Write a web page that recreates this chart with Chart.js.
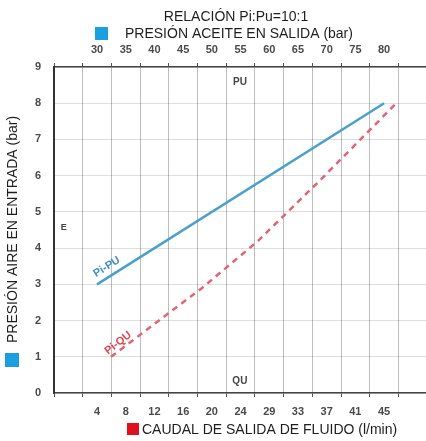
<!DOCTYPE html>
<html>
<head>
<meta charset="utf-8">
<script src="https://cdn.jsdelivr.net/npm/chart.js@4.4.1/dist/chart.umd.min.js"></script>
<style>
html, body { margin: 0; padding: 0; background: #fff; }
</style>
</head>
<body>
<canvas id="chart" width="426" height="441"></canvas>
<script>
// Tick labels of the two horizontal axes (they sit between the grid lines).
var PU_TICKS = ['30', '35', '40', '45', '50', '55', '60', '65', '70', '75', '80'];
var QU_TICKS = ['4', '8', '12', '16', '20', '24', '29', '33', '37', '41', '45'];
var AIR_TICKS = [0, 1, 2, 3, 4, 5, 6, 7, 8, 9];

// Pi-PU: oil outlet pressure (bar) vs air inlet pressure (bar).
var PI_PU_BAR = [30, 80];
var PI_PU_AIR = [3.0, 8.0];

// Pi-QU: fluid flow (l/min) vs air inlet pressure (bar).
var PI_QU_FLOW = [6, 19, 27, 36, 47];
var PI_QU_AIR = [1.0, 2.9, 4.2, 5.9, 8.05];

var TICK_FONT = {family: '"Liberation Sans", Arial, sans-serif', size: 11, weight: 'bold'};
var TICK_COLOUR = '#4a4a4a';
var BLUE = '#1a9fe0';
var RED = '#e0101e';

/**
 * Put the grid ticks at a fixed step from the axis minimum.
 */
function stepTicks(step) {
    return function(axis) {
        var ticks = [];
        for (var i = 0; axis.min + i * step <= axis.max + 1e-9; i++) {
            ticks.push({value: axis.min + i * step});
        }
        axis.ticks = ticks;
    };
}

var labelsPlugin = {
    id: 'labels',
    afterDraw: function(chart) {
        var ctx = chart.ctx;
        var x = chart.scales.x;
        var xq = chart.scales.xq;
        var y = chart.scales.y;
        var font = '14px "Liberation Sans", Arial, sans-serif';

        ctx.save();
        ctx.fillStyle = '#1e1e1e';
        ctx.font = font;
        ctx.textBaseline = 'middle';

        // Titles.
        ctx.textAlign = 'center';
        ctx.fillText('RELACIÓN Pi:Pu=10:1', 236, 17);
        ctx.textAlign = 'left';
        ctx.fillText('PRESIÓN ACEITE EN SALIDA (bar)', 125, 34);
        ctx.fillText('CAUDAL DE SALIDA DE FLUIDO (l/min)', 142, 430);
        ctx.save();
        ctx.translate(13.5, 343);
        ctx.rotate(-Math.PI / 2);
        ctx.fillText('PRESIÓN AIRE EN ENTRADA (bar)', 0, 0);
        ctx.restore();

        ctx.fillStyle = BLUE;
        ctx.fillRect(95, 27, 13, 13);
        ctx.fillRect(5, 353, 14, 14);
        ctx.fillStyle = RED;
        ctx.fillRect(127, 423, 12, 12);

        // Small markers inside the plot.
        ctx.fillStyle = '#444';
        ctx.font = 'bold 10px "Liberation Sans", Arial, sans-serif';
        ctx.textAlign = 'center';
        ctx.fillText('PU', x.getPixelForValue(54.9), y.getPixelForValue(8.59));
        ctx.fillText('QU', xq.getPixelForValue(24.4), y.getPixelForValue(0.33));
        ctx.font = 'bold 9px "Liberation Sans", Arial, sans-serif';
        ctx.fillText('E', x.getPixelForValue(24.2), y.getPixelForValue(4.56));

        // Curve names, written along the lines.
        ctx.font = 'bold 11px "Liberation Sans", Arial, sans-serif';
        ctx.save();
        ctx.translate(x.getPixelForValue(31.7), y.getPixelForValue(3.48));
        ctx.rotate(-32 * Math.PI / 180);
        ctx.fillStyle = '#3d8fca';
        ctx.fillText('Pi-PU', 0, 0);
        ctx.restore();
        ctx.save();
        ctx.translate(xq.getPixelForValue(7.0), y.getPixelForValue(1.38));
        ctx.rotate(-38 * Math.PI / 180);
        ctx.fillStyle = '#e0404f';
        ctx.fillText('Pi-QU', 0, 0);
        ctx.restore();

        ctx.restore();
    }
};

new Chart(document.getElementById('chart'), {
    type: 'line',
    data: {
        datasets: [{
            label: 'Pi-PU',
            data: PI_PU_BAR.map(function(v, i) {
                return {x: v, y: PI_PU_AIR[i]};
            }),
            xAxisID: 'x',
            yAxisID: 'y',
            borderColor: '#4aa0cc',
            borderWidth: 2.5,
            pointRadius: 0,
            tension: 0
        }, {
            label: 'Pi-QU',
            data: PI_QU_FLOW.map(function(v, i) {
                return {x: v, y: PI_QU_AIR[i]};
            }),
            xAxisID: 'xq',
            yAxisID: 'y',
            borderColor: '#e06474',
            borderWidth: 2.5,
            borderDash: [6, 5],
            pointRadius: 0,
            tension: 0
        }]
    },
    options: {
        responsive: false,
        animation: false,
        layout: {padding: 0},
        plugins: {
            legend: {display: false},
            tooltip: {enabled: false}
        },
        scales: {
            x: {
                type: 'linear',
                position: 'top',
                min: 22.5,
                max: 87.3,
                afterBuildTicks: stepTicks(5),
                afterFit: function(scale) { scale.height = 67; },
                border: {color: '#444', width: 1.5},
                grid: {color: 'rgba(0,0,0,0.26)', tickColor: '#555', tickLength: 4},
                ticks: {
                    autoSkip: false,
                    maxRotation: 0,
                    labelOffset: 14.35,
                    padding: 6,
                    color: TICK_COLOUR,
                    font: TICK_FONT,
                    callback: function(value, index) {
                        return PU_TICKS[index - 1] || '';
                    }
                }
            },
            xq: {
                type: 'linear',
                position: 'bottom',
                min: -2.15,
                max: 50.99,
                afterBuildTicks: stepTicks(4.1),
                afterFit: function(scale) { scale.height = 48; },
                border: {color: '#444', width: 1.5},
                grid: {drawOnChartArea: false, tickColor: '#555', tickLength: 4},
                ticks: {
                    autoSkip: false,
                    maxRotation: 0,
                    labelOffset: 14.35,
                    padding: 8,
                    color: TICK_COLOUR,
                    font: TICK_FONT,
                    callback: function(value, index) {
                        return QU_TICKS[index - 1] || '';
                    }
                }
            },
            y: {
                type: 'linear',
                min: AIR_TICKS[0],
                max: AIR_TICKS[AIR_TICKS.length - 1],
                afterBuildTicks: function(axis) {
                    axis.ticks = AIR_TICKS.map(function(v) { return {value: v}; });
                },
                afterFit: function(scale) { scale.width = 54; },
                border: {color: '#333', width: 2},
                grid: {color: 'rgba(0,0,0,0.13)', drawTicks: false},
                ticks: {
                    padding: 13,
                    color: TICK_COLOUR,
                    font: TICK_FONT
                }
            }
        }
    },
    plugins: [labelsPlugin]
});
</script>
</body>
</html>
